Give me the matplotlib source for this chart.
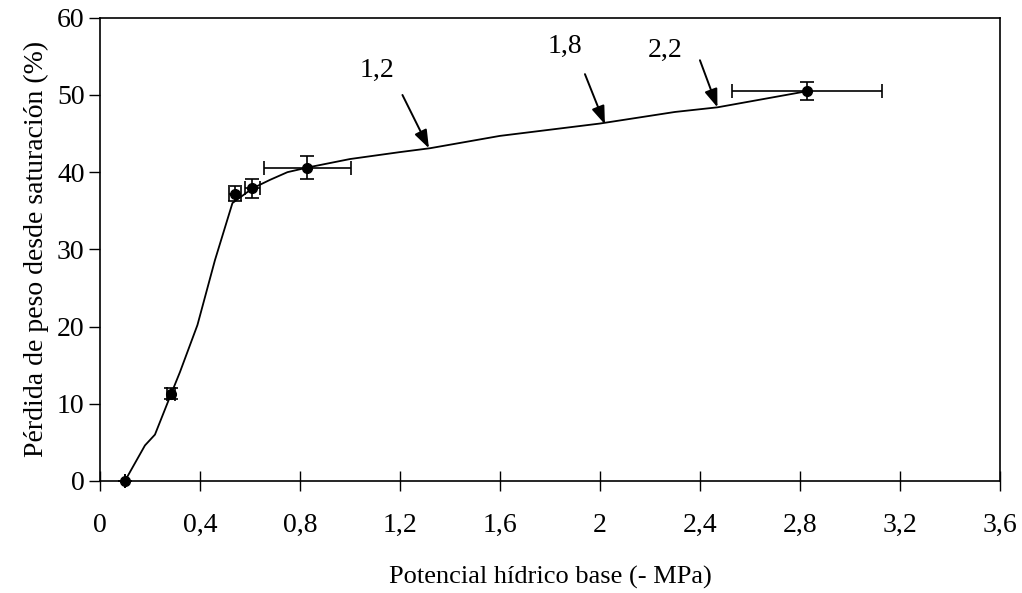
import matplotlib.pyplot as plt
from matplotlib.ticker import FixedLocator

# measured points with error bars
pt_x = [0.10, 0.285, 0.54, 0.61, 0.83, 2.83]
pt_y = [0.0, 11.3, 37.2, 37.9, 40.6, 50.5]
pt_xerr = [0.0, 0.015, 0.025, 0.03, 0.175, 0.30]
pt_yerr = [0.0, 0.7, 1.0, 1.2, 1.5, 1.15]

# fitted curve through the points
curve_x = [0.10, 0.18, 0.22, 0.285, 0.32, 0.39, 0.46, 0.53, 0.61, 0.68, 0.75, 0.83,
           1.0, 1.2, 1.32, 1.6, 2.0, 2.3, 2.47, 2.83]
curve_y = [0.0, 4.6, 6.0, 11.3, 14.1, 20.2, 28.6, 36.0, 37.9, 39.0, 40.0, 40.6,
           41.7, 42.6, 43.1, 44.7, 46.3, 47.8, 48.4, 50.5]

# annotations: label, text position, arrow start, arrow tip
ann_labels = ['1,2', '1,8', '2,2']
ann_text = [(1.11, 53.2), (1.86, 56.3), (2.26, 55.8)]
ann_start = [(1.21, 50.0), (1.94, 52.7), (2.40, 54.5)]
ann_tip = [(1.316, 43.1), (2.02, 46.2), (2.47, 48.4)]

x_ticks = [0, 0.4, 0.8, 1.2, 1.6, 2.0, 2.4, 2.8, 3.2, 3.6]
x_tick_labels = ['0', '0,4', '0,8', '1,2', '1,6', '2', '2,4', '2,8', '3,2', '3,6']
y_ticks = [0, 10, 20, 30, 40, 50, 60]

plt.rcParams['font.family'] = ['Liberation Serif', 'DejaVu Serif']

fig = plt.figure(figsize=(10.22, 5.93), dpi=100)
ax = fig.add_axes([0.0978, 0.189, 0.8806, 0.781])

ax.plot(curve_x, curve_y, color='black', lw=1.3, zorder=2)
ax.errorbar(pt_x, pt_y, xerr=pt_xerr, yerr=pt_yerr, fmt='o', color='black',
            ms=7, elinewidth=1.2, capsize=5, capthick=1.2, zorder=3, clip_on=False)

for lab, tp, st, tip in zip(ann_labels, ann_text, ann_start, ann_tip):
    ax.text(tp[0], tp[1], lab, fontsize=20, ha='center', va='center')
    ax.annotate('', xy=tip, xytext=st,
                arrowprops=dict(arrowstyle='-|>,head_length=1.1,head_width=0.4',
                                color='black', lw=1.4, shrinkA=0, shrinkB=0))

ax.set_xlim(0, 3.6)
ax.set_ylim(0, 60)
ax.xaxis.set_major_locator(FixedLocator(x_ticks))
ax.set_xticklabels(x_tick_labels)
ax.set_yticks(y_ticks)
ax.tick_params(axis='x', direction='inout', length=14, width=1, labelsize=20, pad=16)
ax.tick_params(axis='y', direction='out', length=8, width=1, labelsize=20, pad=3)
for s in ax.spines.values():
    s.set_linewidth(1.2)

ax.set_xlabel('Potencial hídrico base (- MPa)', fontsize=19, labelpad=20)
ax.set_ylabel('Pérdida de peso desde saturación (%)', fontsize=20, labelpad=6)

fig.savefig('out.png', dpi=100)
